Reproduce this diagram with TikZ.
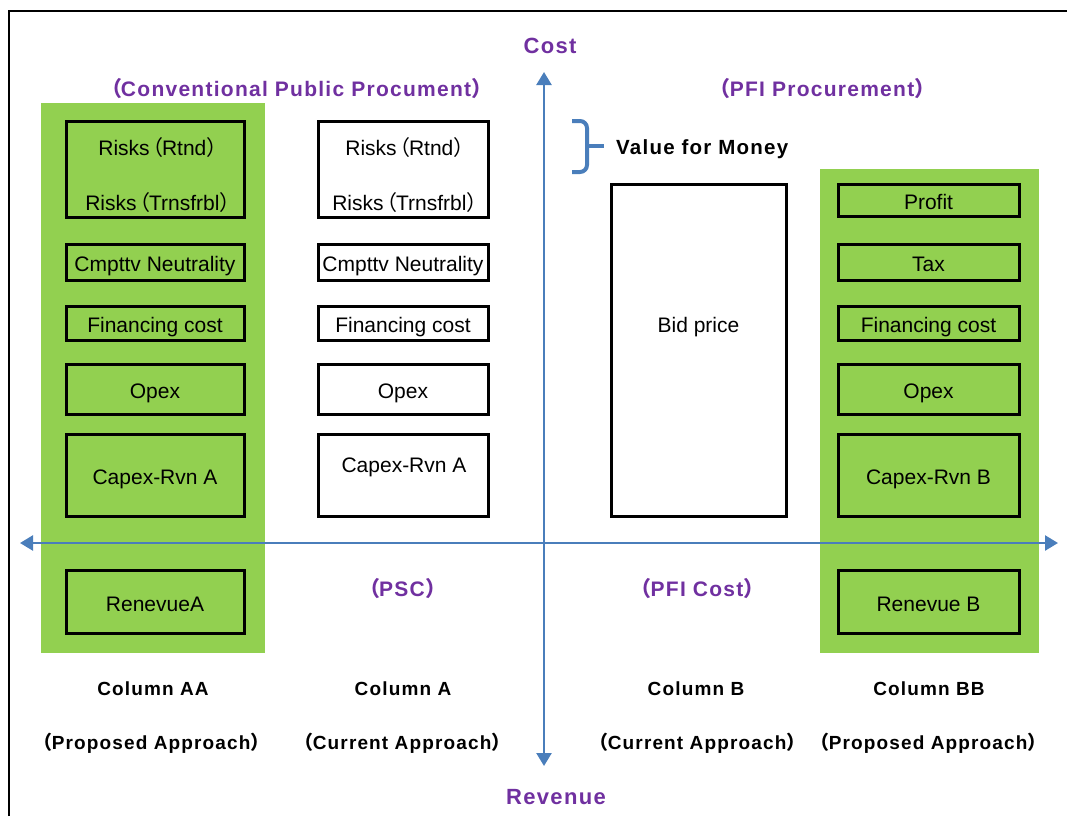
\documentclass[tikz,border=0pt]{standalone}
\usepackage{fontspec}
\setmainfont{Liberation Sans}
\newfontfamily\cjk{Noto Sans CJK JP}
\newfontfamily\lblfont[LetterSpace=6]{Liberation Sans}
\usetikzlibrary{arrows.meta}
\definecolor{leaf}{HTML}{92D050}
\definecolor{plum}{HTML}{7030A0}
\definecolor{steel}{HTML}{4A7EBB}
% full-width parentheses, tightened: inside a line, opening a line, closing
\newcommand\fwl{\kern-.34em{\cjk （}\kern-.07em}
\newcommand\fwo{\kern-.6em{\cjk （}\kern-.05em}
\newcommand\fwr{\kern.02em{\cjk ）}\kern-.58em}

\begin{document}
\begin{tikzpicture}[x=1pt,y=-1pt,
  costbox/.style={draw=black, line width=3pt, inner sep=0pt,
    text height=19pt, text depth=0pt,
    font=\fontsize{21}{25}\selectfont},
  greenbox/.style={costbox, fill=leaf},
  whitebox/.style={costbox, fill=white},
  plain/.style={inner sep=0pt, font=\fontsize{21}{25}\selectfont},
  heading/.style={inner sep=0pt, text=plum,
    font=\lblfont\bfseries\fontsize{21}{25}\selectfont},
  axislabel/.style={heading, font=\lblfont\bfseries\fontsize{22}{26}\selectfont},
  collabel/.style={inner sep=0pt, text=black,
    font=\lblfont\bfseries\fontsize{19}{23}\selectfont},
  vfmlabel/.style={collabel, font=\lblfont\bfseries\fontsize{20.5}{24}\selectfont},
  axis/.style={draw=steel, line width=2.5pt,
    {Triangle[length=13pt,width=15pt]}-{Triangle[length=13pt,width=15pt]}},
  bracket/.style={draw=steel, line width=4pt, rounded corners=7pt},
]
\useasboundingbox (0,0) rectangle (1067,816);

% frame
\coordinate (fbl) at (9,816);
\coordinate (ftl) at (9,11);
\coordinate (ftr) at (1067,11);
\draw[line width=2.5pt] (fbl) -- (ftl) -- (ftr);

% green backgrounds of the proposed-approach columns
\fill[leaf] (41,103) rectangle (265,653);
\fill[leaf] (820,169) rectangle (1039,653);

% axes
\coordinate (ytop) at (544,72);
\coordinate (ybot) at (544,766);
\coordinate (xleft) at (20,543);
\coordinate (xright) at (1058,543);
\draw[axis] (xleft) -- (xright);
\draw[axis] (ytop) -- (ybot);
\node[axislabel] (cost) at (550,46) {Cost};
\node[axislabel] (revenue) at (556,797) {Revenue};

% headings
\node[heading] (conv) at (297,89) {\fwo Conventional Public Procument\fwr};
\node[heading] (pfi) at (823,89) {\fwo PFI Procurement\fwr};
\node[heading] (psc) at (403,589) {\fwo PSC\fwr};
\node[heading] (pficost) at (698,589) {\fwo PFI Cost\fwr};

% value for money bracket
\coordinate (bt) at (572,121);
\coordinate (bb) at (572,172);
\coordinate (btip) at (604,146);
\draw[bracket] (bt) -- (587,121) -- (587,172) -- (bb);
\draw[draw=steel, line width=4pt] (587,146) -- (btip);
\node[vfmlabel, anchor=west] (vfm) at (616,149) {Value for Money};

% Column AA (proposed approach)
\node[greenbox, minimum width=178pt, minimum height=96pt] (aaRisk) at (155,169) {};
\node[plain] (aaRt) at (157,148) {Risks\fwl Rtnd\fwr};
\node[plain] (aaRtr) at (157,203) {Risks\fwl Trnsfrbl\fwr};
\node[greenbox, minimum width=178pt, minimum height=36pt] (aaCn) at (155,262) {Cmpttv Neutrality};
\node[greenbox, minimum width=178pt, minimum height=34pt] (aaFc) at (155,323) {Financing cost};
\node[greenbox, minimum width=178pt, minimum height=50pt] (aaOp) at (155,389) {Opex};
\node[greenbox, minimum width=178pt, minimum height=82pt] (aaCx) at (155,475) {Capex-Rvn A};
\node[greenbox, minimum width=178pt, minimum height=63pt] (aaRv) at (155,601.5) {RenevueA};

% Column A (current approach)
\node[whitebox, minimum width=170pt, minimum height=96pt] (aRisk) at (403,169) {};
\node[plain] (aRt) at (404,148) {Risks\fwl Rtnd\fwr};
\node[plain] (aRtr) at (404,203) {Risks\fwl Trnsfrbl\fwr};
\node[whitebox, minimum width=170pt, minimum height=36pt] (aCn) at (403,262) {Cmpttv Neutrality};
\node[whitebox, minimum width=170pt, minimum height=34pt] (aFc) at (403,323) {Financing cost};
\node[whitebox, minimum width=170pt, minimum height=50pt] (aOp) at (403,389) {Opex};
\node[whitebox, minimum width=170pt, minimum height=82pt] (aCx) at (403,475) {};
\node[plain] (aCxT) at (404,467) {Capex-Rvn A};

% Column B (current approach)
\node[whitebox, minimum width=175pt, minimum height=332pt] (bBid) at (698.5,350) {};
\node[plain] (bBidT) at (698.5,327) {Bid price};

% Column BB (proposed approach)
\node[greenbox, minimum width=181pt, minimum height=32pt] (bbPr) at (928.5,200) {Profit};
\node[greenbox, minimum width=181pt, minimum height=36pt] (bbTx) at (928.5,262) {Tax};
\node[greenbox, minimum width=181pt, minimum height=34pt] (bbFc) at (928.5,323) {Financing cost};
\node[greenbox, minimum width=181pt, minimum height=50pt] (bbOp) at (928.5,389) {Opex};
\node[greenbox, minimum width=181pt, minimum height=82pt] (bbCx) at (928.5,475) {Capex-Rvn B};
\node[greenbox, minimum width=181pt, minimum height=63pt] (bbRv) at (928.5,601.5) {Renevue B};

% column captions
\node[collabel] (capAA) at (153,689) {Column AA};
\node[collabel] (capA) at (403,689) {Column A};
\node[collabel] (capB) at (696,689) {Column B};
\node[collabel] (capBB) at (929,689) {Column BB};
\node[collabel] (subAA) at (152,743) {\fwo Proposed Approach\fwr};
\node[collabel] (subA) at (403,743) {\fwo Current Approach\fwr};
\node[collabel] (subB) at (698,743) {\fwo Current Approach\fwr};
\node[collabel] (subBB) at (929,743) {\fwo Proposed Approach\fwr};
\end{tikzpicture}
\end{document}
